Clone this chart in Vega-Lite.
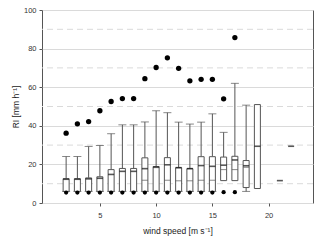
{
  "$schema": "https://vega.github.io/schema/vega-lite/v6.json",
  "width": 271,
  "height": 193,
  "autosize": {"type": "none"},
  "padding": {"left": 42, "top": 10, "right": 7, "bottom": 40},
  "background": "white",
  "config": {
    "view": {"stroke": "#555", "strokeWidth": 1},
    "font": "Liberation Sans",
    "axis": {"labelColor": "#333", "titleColor": "#222", "labelFontSize": 7.5, "titleFontSize": 8.5, "titleFontWeight": "normal", "tickColor": "#555", "domainColor": "#555"}
  },
  "datasets": {
    "boxes": [
      {"x": 2, "lo": 6, "hi": 12.6, "thick": 12.3, "thin": null, "wlo": 6, "whi": 24.1, "out": 36.2, "bot": 5.4},
      {"x": 3, "lo": 6, "hi": 12.6, "thick": 12.3, "thin": null, "wlo": 6, "whi": 24.1, "out": 41.0, "bot": 5.4},
      {"x": 4, "lo": 6, "hi": 13.0, "thick": 12.5, "thin": null, "wlo": 6, "whi": 29.3, "out": 42.2, "bot": 5.4},
      {"x": 5, "lo": 6, "hi": 13.6, "thick": 12.8, "thin": null, "wlo": 6, "whi": 29.8, "out": 47.8, "bot": 5.4},
      {"x": 6, "lo": 6, "hi": 17.3, "thick": 14.8, "thin": null, "wlo": 6, "whi": 35.9, "out": 52.6, "bot": 5.4},
      {"x": 7, "lo": 6, "hi": 17.9, "thick": 16.4, "thin": null, "wlo": 6, "whi": 40.5, "out": 54.1, "bot": 5.4},
      {"x": 8, "lo": 6, "hi": 17.9, "thick": 16.4, "thin": null, "wlo": 6, "whi": 40.5, "out": 54.1, "bot": 5.4},
      {"x": 9, "lo": 6, "hi": 23.4, "thick": 17.8, "thin": 11.8, "wlo": 6, "whi": 42.0, "out": 64.4, "bot": 5.4},
      {"x": 10, "lo": 6, "hi": 18.9, "thick": 18.5, "thin": null, "wlo": 6, "whi": 47.8, "out": 70.2, "bot": 5.4},
      {"x": 11, "lo": 6, "hi": 23.5, "thick": 19.8, "thin": 11.8, "wlo": 6, "whi": 46.8, "out": 75.2, "bot": 5.4},
      {"x": 12, "lo": 6, "hi": 18.3, "thick": 18.3, "thin": 11.5, "wlo": 6, "whi": 41.9, "out": 69.8, "bot": 5.4},
      {"x": 13, "lo": 6, "hi": 17.8, "thick": 17.8, "thin": 11.5, "wlo": 6, "whi": 40.9, "out": 63.3, "bot": 5.4},
      {"x": 14, "lo": 6, "hi": 24.0, "thick": 19.4, "thin": 11.8, "wlo": 6, "whi": 41.9, "out": 64.1, "bot": 5.4},
      {"x": 15, "lo": 6, "hi": 24.0, "thick": 19.0, "thin": 11.8, "wlo": 6, "whi": 46.2, "out": 64.1, "bot": 5.4},
      {"x": 16, "lo": 11.6, "hi": 23.8, "thick": 19.6, "thin": 17.3, "wlo": null, "whi": 36.6, "out": 54.0, "bot": 5.6},
      {"x": 17, "lo": 11.6, "hi": 24.2, "thick": 22.3, "thin": 17.3, "wlo": null, "whi": 62.0, "out": 85.7, "bot": 5.6},
      {"x": 18, "lo": 8.0, "hi": 22.0, "thick": 19.3, "thin": 18.5, "wlo": 6.0, "whi": 50.7, "out": null, "bot": null},
      {"x": 19, "lo": 7.5, "hi": 51.0, "thick": 29.4, "thin": null, "wlo": null, "whi": null, "out": null, "bot": null},
      {"x": 21, "lo": null, "hi": null, "thick": 11.6, "thin": null, "wlo": null, "whi": null, "out": null, "bot": null},
      {"x": 22, "lo": null, "hi": null, "thick": 29.4, "thin": null, "wlo": null, "whi": null, "out": null, "bot": null}
    ],
    "grid": [
      {"g": 10}, {"g": 30}, {"g": 50}, {"g": 70}, {"g": 90}
    ]
  },
  "data": {"name": "boxes"},
  "layer": [
    {
      "data": {"name": "grid"},
      "mark": {"type": "rule", "color": "#dadada", "strokeWidth": 1, "strokeDash": [6, 4]},
      "encoding": {
        "y": {"field": "g", "type": "quantitative", "scale": {"domain": [0, 100], "nice": false},
          "axis": {"tickCount": 5, "labelOverlap": false, "grid": true, "gridColor": "#dadada", "gridWidth": 1,
            "domain": false, "tickSize": 3, "labelPadding": 3, "title": "RI [mm h⁻¹]", "titlePadding": 3}}
      }
    },
    {
      "mark": {"type": "rule", "color": "#555", "strokeWidth": 1},
      "transform": [{"filter": "datum.whi != null"}],
      "encoding": {
        "x": {"field": "x", "type": "quantitative", "scale": {"domain": [0.3, 23.5], "nice": false, "zero": false},
          "axis": {"values": [5, 10, 15, 20], "grid": false, "domain": false, "tickSize": 3, "labelPadding": 5, "title": "wind speed [m s⁻¹]", "titlePadding": 8}},
        "y": {"field": "hi", "type": "quantitative"},
        "y2": {"field": "whi"}
      }
    },
    {
      "mark": {"type": "rule", "color": "#555", "strokeWidth": 1},
      "transform": [{"filter": "datum.wlo != null"}],
      "encoding": {"x": {"field": "x", "type": "quantitative"}, "y": {"field": "wlo", "type": "quantitative"}, "y2": {"field": "lo"}}
    },
    {
      "mark": {"type": "tick", "orient": "horizontal", "size": 8, "thickness": 1, "color": "#555"},
      "transform": [{"filter": "datum.whi != null"}],
      "encoding": {"x": {"field": "x", "type": "quantitative"}, "y": {"field": "whi", "type": "quantitative"}}
    },
    {
      "mark": {"type": "tick", "orient": "horizontal", "size": 8, "thickness": 1, "color": "#555"},
      "transform": [{"filter": "datum.wlo != null"}],
      "encoding": {"x": {"field": "x", "type": "quantitative"}, "y": {"field": "wlo", "type": "quantitative"}}
    },
    {
      "mark": {"type": "bar", "size": 6, "fill": "white", "stroke": "#555", "strokeWidth": 1},
      "transform": [{"filter": "datum.lo != null"}],
      "encoding": {"x": {"field": "x", "type": "quantitative"}, "y": {"field": "lo", "type": "quantitative"}, "y2": {"field": "hi"}}
    },
    {
      "mark": {"type": "tick", "orient": "horizontal", "size": 6, "thickness": 1, "color": "#555"},
      "transform": [{"filter": "datum.thin != null"}],
      "encoding": {"x": {"field": "x", "type": "quantitative"}, "y": {"field": "thin", "type": "quantitative"}}
    },
    {
      "mark": {"type": "tick", "orient": "horizontal", "size": 6, "thickness": 1.6, "color": "#111"},
      "transform": [{"filter": "datum.thick != null"}],
      "encoding": {"x": {"field": "x", "type": "quantitative"}, "y": {"field": "thick", "type": "quantitative"}}
    },
    {
      "mark": {"type": "point", "shape": "circle", "filled": true, "size": 28, "color": "#000", "opacity": 1},
      "transform": [{"filter": "datum.out != null"}],
      "encoding": {"x": {"field": "x", "type": "quantitative"}, "y": {"field": "out", "type": "quantitative"}}
    },
    {
      "mark": {"type": "point", "shape": "circle", "filled": true, "size": 18, "color": "#000", "opacity": 1},
      "transform": [{"filter": "datum.bot != null"}],
      "encoding": {"x": {"field": "x", "type": "quantitative"}, "y": {"field": "bot", "type": "quantitative"}}
    }
  ]
}
